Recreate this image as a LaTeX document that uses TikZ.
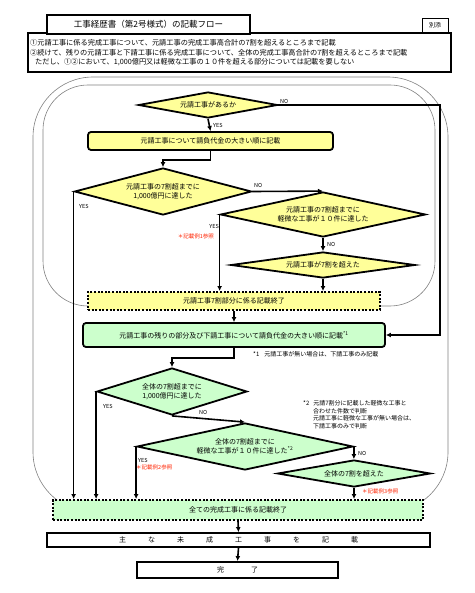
\documentclass[tikz,border=0pt]{standalone}
\usepackage{fontspec}
\setmainfont{Noto Sans CJK JP}
\usetikzlibrary{shapes.geometric,arrows.meta}

\definecolor{flowyellow}{HTML}{FFFF99}
\definecolor{flowgreen}{HTML}{CCFFCC}
\definecolor{notered}{HTML}{FF2200}

\tikzset{
  decision/.style={diamond, draw, line width=1.8pt, inner sep=0pt, align=center,
                   font=\fontsize{7}{9.5}\selectfont},
  process/.style={rectangle, rounded corners=3pt, draw, line width=1.8pt, inner sep=0pt,
                  font=\fontsize{7}{9}\selectfont},
  finish/.style={rectangle, draw, line width=2pt, dash pattern=on 2pt off 1.6pt, inner sep=0pt,
                 font=\fontsize{7}{9}\selectfont},
  plainbox/.style={rectangle, draw, line width=1.8pt, fill=white, inner sep=0pt,
                   font=\fontsize{7}{9}\selectfont},
  conn/.style={-{Latex[length=5pt,width=5pt]}, line width=1.6pt},
  tag/.style={font=\fontsize{5.5}{6.5}\selectfont, inner sep=0pt},
  redtag/.style={tag, text=notered},
  note/.style={font=\fontsize{6}{7.8}\selectfont, inner sep=0pt, align=left},
  headline/.style={font=\fontsize{7.2}{9}\selectfont, inner sep=0pt, anchor=west},
  frame/.style={draw=gray, line width=0.6pt},
}

\begin{document}
\begin{tikzpicture}[x=1pt,y=-1pt]
	\useasboundingbox (0,0) rectangle (474,593);

	% rounded frames behind the flow
	\draw[frame, rounded corners=60pt] (33,77) rectangle (448,512);
	\draw[frame, rounded corners=45pt] (43,85) rectangle (435,306);

	% header
	\node[plainbox, minimum width=423, minimum height=39] (hdr) at (239.5,52.5) {};
	\node[plainbox, minimum width=203, minimum height=19, font=\fontsize{8.5}{10}\selectfont]
	     (title) at (148.5,24.5) {工事経歴書（第2号様式）の記載フロー};
	\node[rectangle, draw, line width=0.8pt, minimum width=26, minimum height=14, inner sep=0pt,
	      font=\fontsize{6}{7}\selectfont] (annex) at (435,25) {別添};
	\node[headline] (line_a) at (30,43) {①元請工事に係る完成工事について、元請工事の完成工事高合計の7割を超えるところまで記載};
	\node[headline] (line_b) at (30,53) {②続けて、残りの元請工事と下請工事に係る完成工事について、全体の完成工事高合計の7割を超えるところまで記載};
	\node[headline] (line_c) at (35,62) {ただし、①②において、1,000億円又は軽微な工事の１０件を超える部分については記載を要しない};

	% node definitions
	\node[decision, fill=flowyellow, minimum width=139, minimum height=26, aspect=5.35]
	     (q_moto) at (208,105) {元請工事があるか};
	\node[process, fill=flowyellow, minimum width=245, minimum height=18]
	     (moto_list) at (210.5,141) {元請工事について請負代金の大きい順に記載};
	\node[decision, fill=flowyellow, minimum width=177, minimum height=47, aspect=3.77]
	     (q_moto_amt) at (163,191.5) {元請工事の7割超までに\\1,000億円に達した};
	\node[decision, fill=flowyellow, minimum width=205, minimum height=45, aspect=4.56]
	     (q_moto_cnt) at (323,214.5) {元請工事の7割超までに\\軽微な工事が１０件に達した};
	\node[decision, fill=flowyellow, minimum width=184, minimum height=26, aspect=7]
	     (q_moto_70) at (323,265) {元請工事が7割を超えた};
	\node[finish, fill=flowyellow, minimum width=292, minimum height=18]
	     (moto_end) at (234,301) {元請工事7割部分に係る記載終了};
	\node[process, fill=flowgreen, minimum width=302, minimum height=24]
	     (all_list) at (234,335) {元請工事の残りの部分及び下請工事について請負代金の大きい順に記載\textsuperscript{*1}};
	\node[decision, fill=flowgreen, minimum width=150, minimum height=47, aspect=3.2]
	     (q_all_amt) at (172,391.5) {全体の7割超までに\\1,000億円に達した};
	\node[decision, fill=flowgreen, minimum width=216, minimum height=47, aspect=4.6]
	     (q_all_cnt) at (245,446.5) {全体の7割超までに\\軽微な工事が１０件に達した\textsuperscript{*2}};
	\node[decision, fill=flowgreen, minimum width=153, minimum height=27, aspect=5.67]
	     (q_all_70) at (354,473.5) {全体の7割を超えた};
	\node[finish, fill=flowgreen, minimum width=370, minimum height=20]
	     (all_end) at (238,510) {全ての完成工事に係る記載終了};
	\node[plainbox, minimum width=383, minimum height=14]
	     (mishu) at (238.5,540) {主\hspace{22pt}な\hspace{22pt}未\hspace{22pt}成\hspace{22pt}工\hspace{22pt}事\hspace{22pt}を\hspace{22pt}記\hspace{22pt}載};
	\node[plainbox, minimum width=201, minimum height=16]
	     (kanryo) at (237.5,570) {完\hspace{27pt}了};
	\coordinate (no_turn) at (440,105);

	% arrows
	\draw[conn] (q_moto.south) -- (moto_list.north);
	\draw[conn] (q_moto.east) -- (no_turn) |- (all_list.east);
	\draw[conn] (moto_list.south) -- ++(0,9) -| (q_moto_amt.north);
	\draw[conn] (q_moto_amt.east) -- (q_moto_cnt.north);
	\draw[conn] (q_moto_amt.west) -- (q_moto_amt.west |- all_end.north);
	\draw[conn] (q_moto_cnt.west) -- (q_moto_cnt.west |- moto_end.north);
	\draw[conn] (q_moto_cnt.south) -- (q_moto_70.north);
	\draw[conn] (q_moto_70.south) -- (q_moto_70.south |- moto_end.north);
	\draw[conn] (moto_end.south) -- (all_list.north);
	\draw[conn] (all_list.south) -- ++(0,10) -| (q_all_amt.north);
	\draw[conn] (q_all_amt.west) -- (q_all_amt.west |- all_end.north);
	\draw[conn] (q_all_amt.south) -- (q_all_cnt.north);
	\draw[conn] (q_all_cnt.west) -- (q_all_cnt.west |- all_end.north);
	\draw[conn] (q_all_cnt.east) -- (q_all_cnt.east |- q_all_70.north);
	\draw[conn] (q_all_70.south) -- (q_all_70.south |- all_end.north);
	\draw[conn] (all_end.south) -- (mishu.north);
	\draw[conn] (mishu.south) -- (kanryo.north);

	% branch labels
	\node[tag, anchor=south west] (no_moto)      at (280,104) {NO};
	\node[tag, anchor=west]       (yes_moto)     at (213,125) {YES};
	\node[tag, anchor=south west] (no_moto_amt)  at (254,188) {NO};
	\node[tag, anchor=west]       (yes_moto_amt) at (79,206) {YES};
	\node[tag, anchor=east]       (yes_moto_cnt) at (219,226) {YES};
	\node[redtag, anchor=east]    (ex_one)       at (214,236) {＊記載例1参照};
	\node[tag, anchor=west]       (no_moto_cnt)  at (327,244) {NO};
	\node[tag, anchor=west]       (yes_all_amt)  at (103,406) {YES};
	\node[tag, anchor=west]       (no_all_amt)   at (199,412) {NO};
	\node[tag, anchor=west]       (yes_all_cnt)  at (138,460) {YES};
	\node[redtag, anchor=west]    (ex_two)       at (136,467) {＊記載例2参照};
	\node[tag, anchor=west]       (no_all_cnt)   at (358,453) {NO};
	\node[redtag, anchor=west]    (ex_three)     at (362,491) {＊記載例3参照};

	% footnotes
	\node[note, anchor=west] (fn_one) at (253,354) {*1\hspace{5pt}元請工事が無い場合は、下請工事のみ記載};
	\node[note, anchor=north west] (fn_two) at (303,400)
	     {*2\hspace{4pt}元請7割分に記載した軽微な工事と\\
	      \hspace*{10pt}合わせた件数で判断\\
	      \hspace*{10pt}元請工事に軽微な工事が無い場合は、\\
	      \hspace*{10pt}下請工事のみで判断};

\end{tikzpicture}
\end{document}
